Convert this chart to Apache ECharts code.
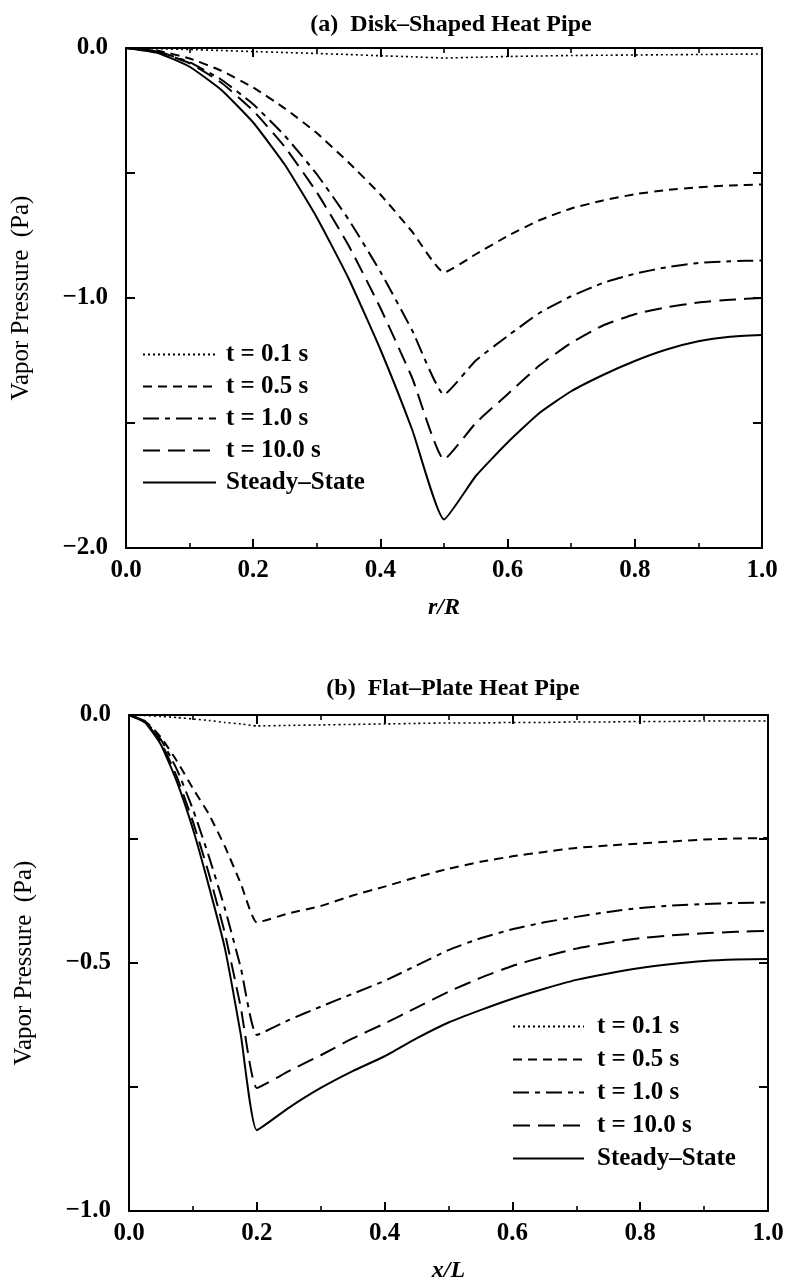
<!DOCTYPE html>
<html>
<head>
<meta charset="utf-8">
<script src="https://cdn.jsdelivr.net/npm/echarts@6/dist/echarts.min.js"></script>
<style>
html,body{margin:0;padding:0;background:#fff;}
#c{width:790px;height:1286px;}
</style>
</head>
<body>
<div id="c"></div>
<script>
// ---------- Data: (a) Disk-Shaped Heat Pipe ----------
const topX = [0,0.05,0.1,0.15,0.2,0.25,0.3,0.35,0.4,0.45,0.5,0.55,0.6,0.65,0.7,0.75,0.8,0.85,0.9,0.95,1.0];
const topT01 = [0,-0.003,-0.006,-0.01,-0.014,-0.018,-0.022,-0.026,-0.031,-0.035,-0.04,-0.037,-0.034,-0.032,-0.03,-0.029,-0.028,-0.027,-0.026,-0.025,-0.024];
const topT05 = [0,-0.011,-0.042,-0.091,-0.158,-0.242,-0.34,-0.458,-0.586,-0.735,-0.898,-0.825,-0.752,-0.689,-0.642,-0.61,-0.585,-0.568,-0.557,-0.55,-0.546];
const topT1 = [0,-0.014,-0.057,-0.127,-0.225,-0.352,-0.505,-0.686,-0.895,-1.13,-1.386,-1.25,-1.152,-1.06,-0.993,-0.94,-0.903,-0.877,-0.86,-0.853,-0.85];
const topT10 = [0,-0.015,-0.061,-0.139,-0.251,-0.397,-0.577,-0.79,-1.04,-1.32,-1.646,-1.5,-1.385,-1.27,-1.18,-1.11,-1.065,-1.037,-1.018,-1.007,-1.0];
const topSteady = [0,-0.02,-0.075,-0.168,-0.298,-0.468,-0.678,-0.922,-1.206,-1.527,-1.886,-1.712,-1.578,-1.46,-1.373,-1.308,-1.252,-1.206,-1.173,-1.155,-1.148];

// ---------- Data: (b) Flat-Plate Heat Pipe ----------
const botX = [0,0.025,0.05,0.075,0.1,0.125,0.15,0.175,0.2,0.25,0.3,0.35,0.4,0.45,0.5,0.55,0.6,0.65,0.7,0.75,0.8,0.85,0.9,0.95,1.0];
const botT01 = [0,-0.001,-0.003,-0.005,-0.008,-0.011,-0.015,-0.018,-0.022,-0.021,-0.02,-0.019,-0.018,-0.017,-0.016,-0.016,-0.015,-0.015,-0.014,-0.014,-0.013,-0.013,-0.012,-0.012,-0.012];
const botT05 = [0,-0.012,-0.045,-0.093,-0.148,-0.2,-0.265,-0.34,-0.418,-0.4,-0.385,-0.364,-0.346,-0.327,-0.31,-0.296,-0.285,-0.276,-0.268,-0.263,-0.259,-0.255,-0.251,-0.249,-0.248];
const botT1 = [0,-0.013,-0.05,-0.11,-0.19,-0.285,-0.39,-0.51,-0.645,-0.615,-0.588,-0.562,-0.536,-0.505,-0.474,-0.45,-0.432,-0.418,-0.407,-0.397,-0.389,-0.384,-0.381,-0.379,-0.378];
const botT10 = [0,-0.014,-0.055,-0.125,-0.215,-0.32,-0.44,-0.59,-0.752,-0.718,-0.686,-0.652,-0.622,-0.59,-0.558,-0.53,-0.506,-0.487,-0.471,-0.459,-0.45,-0.444,-0.44,-0.437,-0.435];
const botSteady = [0,-0.015,-0.06,-0.135,-0.23,-0.345,-0.47,-0.645,-0.837,-0.792,-0.752,-0.718,-0.688,-0.652,-0.62,-0.595,-0.572,-0.552,-0.534,-0.521,-0.51,-0.502,-0.496,-0.493,-0.492];

const seriesNames = ['t = 0.1 s','t = 0.5 s','t = 1.0 s','t = 10.0 s','Steady–State'];
const titles = ['(a)  Disk–Shaped Heat Pipe','(b)  Flat–Plate Heat Pipe'];
const xNames = ['r/R','x/L'];
const yName = 'Vapor Pressure  (Pa)';

const FONT = 'Liberation Serif, Times New Roman, serif';
const styles = [
  {type:[2,3], width:1.6},
  {type:[9,6], width:2},
  {type:[16,6,5,6], width:2},
  {type:[17,8], width:2},
  {type:'solid', width:2}
];

function zip(xs, ys){ return xs.map((x,i)=>[x, ys[i]]); }
function fmtY(v){ return v === 0 ? '0.0' : (v < 0 ? '\u2212' : '') + Math.abs(v).toFixed(1); }

const grids = [
  {left:126, right:28, top:48, height:500},
  {left:129, right:22, top:715, height:496}
];

function xAxisPair(gi, name){
  const base = {
    type:'value', gridIndex:gi, min:0, max:1, interval:0.2,
    axisLine:{show:true, onZero:false, lineStyle:{color:'#000', width:2}},
    axisTick:{show:true, inside:true, length:9, lineStyle:{color:'#000', width:2}},
    minorTick:{show:true, splitNumber:2, length:5, lineStyle:{color:'#000', width:1.6}},
    splitLine:{show:false}, minorSplitLine:{show:false}
  };
  return [
    Object.assign({}, base, {
      position:'bottom', name:name, nameLocation:'middle', nameGap:48,
      nameTextStyle:{fontFamily:FONT, fontSize:24, fontStyle:'italic', fontWeight:'bold', color:'#000'},
      axisLabel:{show:true, margin:10, fontFamily:FONT, fontSize:25, fontWeight:'bold', color:'#000',
        formatter:(v)=>v.toFixed(1)}
    }),
    Object.assign({}, base, {position:'top', axisLabel:{show:false}})
  ];
}

function yAxisPair(gi, min, interval, labelStep){
  const base = {
    type:'value', gridIndex:gi, min:min, max:0, interval:interval,
    axisLine:{show:true, onZero:false, lineStyle:{color:'#000', width:2}},
    axisTick:{show:true, inside:true, length:9, lineStyle:{color:'#000', width:2}},
    splitLine:{show:false}
  };
  return [
    Object.assign({}, base, {
      position:'left', name:yName, nameLocation:'middle', nameGap:92, nameRotate:90,
      nameTextStyle:{fontFamily:FONT, fontSize:25, color:'#000'},
      axisLabel:{show:true, margin:18, fontFamily:FONT, fontSize:25, fontWeight:'bold', color:'#000',
        formatter:(v)=>{ const r = Math.abs(v/labelStep - Math.round(v/labelStep)); return r < 1e-6 ? fmtY(v) : ''; }}
    }),
    Object.assign({}, base, {position:'right', axisLabel:{show:false}})
  ];
}

function mkSeries(gi, xs, ysList){
  return ysList.map((ys, i) => ({
    type:'line', name:seriesNames[i], xAxisIndex:gi*2, yAxisIndex:gi*2,
    data:zip(xs, ys), showSymbol:false, symbol:'none', smooth:0.15,
    lineStyle:{color:'#000', width:styles[i].width, type:styles[i].type},
    itemStyle:{color:'#000'}, z:2
  }));
}

const legendBase = {
  orient:'vertical', itemWidth:73, itemHeight:14, itemGap:7,
  itemStyle:{color:'rgba(0,0,0,0)', borderWidth:0, opacity:0},
  textStyle:{fontFamily:FONT, fontSize:25, fontWeight:'bold', color:'#000', lineHeight:25, padding:[0,0,0,5]},
  data:seriesNames, selectedMode:false
};

const chart = echarts.init(document.getElementById('c'), null, {renderer:'canvas'});
chart.setOption({
  animation:false,
  backgroundColor:'#fff',
  title:[
    {text:titles[0], left:446, top:8, textAlign:'center',
     textStyle:{fontFamily:FONT, fontSize:24, fontWeight:'bold', color:'#000'}},
    {text:titles[1], left:448, top:672, textAlign:'center',
     textStyle:{fontFamily:FONT, fontSize:24, fontWeight:'bold', color:'#000'}}
  ],
  grid:grids,
  xAxis:[...xAxisPair(0, xNames[0]), ...xAxisPair(1, xNames[1])],
  yAxis:[...yAxisPair(0, -2, 0.5, 1), ...yAxisPair(1, -1, 0.25, 0.5)],
  legend:[
    Object.assign({}, legendBase, {left:137, top:337}),
    Object.assign({}, legendBase, {left:507, top:1009, itemWidth:71, itemGap:8,
      textStyle:Object.assign({}, legendBase.textStyle, {padding:[0,0,0,8]})})
  ],
  series:[
    ...mkSeries(0, topX, [topT01, topT05, topT1, topT10, topSteady]),
    ...mkSeries(1, botX, [botT01, botT05, botT1, botT10, botSteady])
  ]
});
</script>
</body>
</html>
